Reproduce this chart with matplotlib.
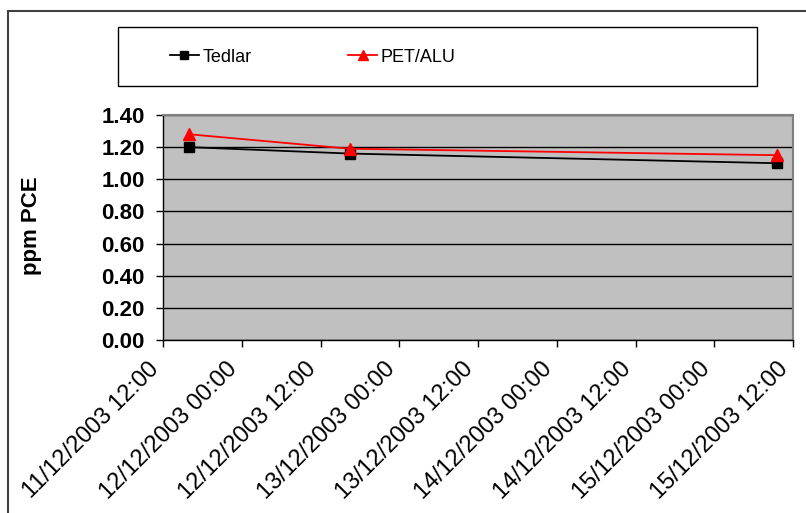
import datetime as dt
import matplotlib
matplotlib.use("Agg")
import matplotlib.pyplot as plt
import matplotlib.dates as mdates
from matplotlib.patches import Rectangle

# sampling times and measured values
times = [dt.datetime(2003, 12, 11, 16, 0),
         dt.datetime(2003, 12, 12, 16, 30),
         dt.datetime(2003, 12, 15, 9, 30)]
tedlar = [1.20, 1.16, 1.10]
pet_alu = [1.28, 1.19, 1.15]

x_start = dt.datetime(2003, 12, 11, 12, 0)
x_end = dt.datetime(2003, 12, 15, 12, 0)
y_ticks = [0.0, 0.2, 0.4, 0.6, 0.8, 1.0, 1.2, 1.4]

plt.rcParams['font.family'] = ['Liberation Sans', 'DejaVu Sans']

W, H = 806, 513
fig = plt.figure(figsize=(W / 100, H / 100), dpi=100)

# outer chart frame (only top/left visible in the crop)
fig.add_artist(Rectangle((8 / W, -0.1), 1.2, 1 - 11 / H + 0.1,
                         transform=fig.transFigure, fill=False,
                         edgecolor='#404040', linewidth=1.5))

ax = fig.add_axes([163 / W, 1 - 340 / H, 630 / W, 225 / H])
ax.set_facecolor('#c0c0c0')

ax.plot(times, tedlar, color='black', marker='s', markersize=7,
        linewidth=1.3, label='Tedlar')
ax.plot(times, pet_alu, color='red', marker='^', markersize=8.5,
        linewidth=1.3, label='PET/ALU')

ax.set_xlim(x_start, x_end)
ax.set_ylim(0, 1.4)
ax.set_yticks(y_ticks)
ax.set_yticklabels([f"{v:.2f}" for v in y_ticks], fontsize=16, fontweight='bold')
ax.yaxis.grid(True, color='black', linewidth=1.0)
ax.set_axisbelow(True)

ax.xaxis.set_major_locator(mdates.HourLocator(byhour=[0, 12]))
ax.xaxis.set_major_formatter(mdates.DateFormatter('%d/%m/%Y %H:%M'))
plt.setp(ax.get_xticklabels(), rotation=45, ha='right', va='bottom',
         rotation_mode='anchor', fontsize=17)

ax.tick_params(axis='both', direction='out', length=5, width=1, color='black')
ax.tick_params(axis='x', pad=19)
ax.tick_params(axis='y', pad=8)

for side in ['top', 'right']:
    ax.spines[side].set_color('#808080')
    ax.spines[side].set_linewidth(1.5)
for side in ['left', 'bottom']:
    ax.spines[side].set_color('black')
    ax.spines[side].set_linewidth(1.0)

ax.set_ylabel('ppm PCE', fontsize=16, fontweight='bold')
ax.yaxis.set_label_coords(-0.192, 0.51)

# legend box and entries
fig.add_artist(Rectangle((118 / W, 1 - 86 / H), 639 / W, 59 / H,
                         transform=fig.transFigure, fill=False,
                         edgecolor='black', linewidth=1.0))
fig.legend(loc='center left', bbox_to_anchor=(170 / W, 1 - 57 / H),
           ncol=2, frameon=False, handlelength=1.6,
           handletextpad=0.2, columnspacing=5.35, borderpad=0,
           borderaxespad=0, markerscale=0.9,
           prop={'size': 13})

fig.savefig('out.png', dpi=100, facecolor='white')
